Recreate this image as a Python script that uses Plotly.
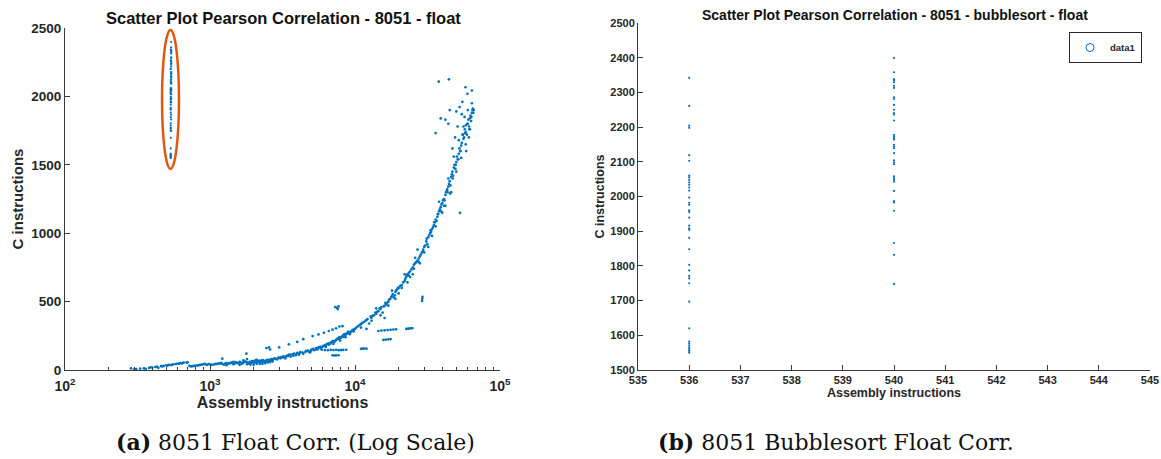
import plotly.graph_objects as go

# ---------------- data ----------------
# Bubblesort float runs (panel b; also the circled column in panel a)
bubble_x = [536]*35 + [540]*33
bubble_y = [2342, 2261, 2204, 2198, 2119, 2103, 2060, 2055, 2048, 2041, 2034, 2026, 2017,
            1997, 1982, 1976, 1960, 1955, 1939, 1916, 1908, 1904, 1881, 1848, 1803, 1787,
            1771, 1764, 1750, 1697, 1620, 1582, 1577, 1571, 1565] + \
           [2399, 2358, 2338, 2334, 2329, 2319, 2313, 2286, 2281, 2264, 2250, 2240, 2236,
            2219, 2178, 2173, 2168, 2164, 2149, 2144, 2139, 2125, 2104, 2098, 2093, 2058,
            2053, 2048, 2043, 2016, 1987, 1983, 1959]
bubble_extra_x = [536, 536, 536, 540, 540, 540]
bubble_extra_y = [1560, 1555, 1550, 1866, 1832, 1748]

# Main trend of all float programs (panel a)
curve_x = [285, 300, 330, 360, 380, 400, 420, 440, 460, 480, 500, 520, 540, 560, 590, 620, 640, 660,
           700, 720, 760, 800, 840, 880, 920, 960, 1000,
           310, 350, 390, 430, 470, 510, 550, 580, 610, 650, 690, 740, 780, 820, 860, 900, 940, 980,
           1050, 1100, 1150, 1200, 1216, 1250, 1300, 1350, 1400, 1450, 1500, 1550, 1600, 1650, 1700,
           1750, 1783, 1800, 1850, 1900, 1950, 2000, 2050, 2100, 2150, 2200, 2250, 2300, 2350, 2400,
           2450, 2500, 2550, 2600, 2650, 2700, 2800, 2900, 3000,
           1600, 1800, 2000, 2200, 2000, 2100, 1900, 1300, 1450, 1700, 2300, 2500, 2700,
           1020, 1080, 1120, 1180, 1230, 1280, 1320, 1380, 1420, 1480, 1520, 1580, 1620, 1680, 1720,
           1780, 1820, 1880, 1920, 1980, 2020, 2080, 2120, 2180, 2220, 2280, 2320, 2380, 2420, 2480,
           2520, 2580, 2620, 2680, 2750, 2850, 2950, 3050, 3150, 3250, 3350, 3450,
           2450, 2550, 2600,
           3100, 3200, 3300, 3400, 3500, 3600, 3700, 3800, 3900, 4000, 4200, 4400, 4600, 4800, 5000,
           5200, 5400, 5600, 5800, 6000, 6200, 6400, 6600, 6800, 7000, 7200, 7400, 7600, 7800, 8000,
           8200, 8400, 8600, 8800, 9000, 9300, 9600, 10000,
           3550, 3750, 3950, 4150, 4350, 4550, 4750, 4950, 5150, 5350, 5550, 5750, 5950, 6150, 6350,
           6550, 6750, 6950, 7150, 7350, 7550, 7750, 7950, 8150, 8350, 8550, 8750, 8950, 9150, 9450,
           9750,
           3000, 3500, 4000, 4400, 5100, 5600, 6100, 6600, 7000, 7400, 7800, 8200,
           3300, 4100, 4900, 5500, 6300, 7100, 7900, 8600, 9200, 9800,
           10500, 11000, 11500, 12000, 12500, 13000, 13500, 14000, 14500, 15000, 15500, 16000, 16500,
           17000, 17500, 18000, 18500, 19000, 19500, 20000, 21000, 22000, 22500, 23000, 24000, 25000,
           26000, 27000, 28000, 29000, 30000,
           10200, 10800, 11200, 11800, 12200, 12800, 13200, 13800, 14200, 14800, 15200, 15800, 16200,
           16800, 17200, 17800, 18200, 18800, 19200, 19800, 20500, 21500, 22200, 22800, 23500, 24500,
           25500, 26500, 27500, 28500, 29500,
           12000, 14000, 16000, 18000, 20000, 22000, 24000, 26000, 28000, 30000, 27000, 25000, 23000,
           11000, 13000, 15000, 17000, 19000, 21000, 23500, 25500, 27500, 29500,
           31000, 32000, 33000, 34000, 35000, 36000, 37000, 38000, 39000, 40000, 41000, 42000, 43000,
           44000, 45000, 46000, 47000, 48000, 50000, 52000, 54000, 56000, 58000, 60000, 62000, 64000,
           66000,
           30500, 31200, 32500, 33200, 34500, 35200, 36500, 37200, 38500, 39200, 40500, 41200, 42500,
           43200, 44500, 45200, 46500, 47200, 48500, 49200, 50500, 51200, 52500, 53200, 54500, 55200,
           56500, 57200, 58200, 59200, 60500, 61200, 62500, 63200, 64500, 65500,
           32000, 34000, 36000, 38000, 40000, 42000, 44000, 46000, 48000, 50000, 52000, 53000, 54000,
           56000, 58000, 60000, 62000, 64000, 57000, 55000, 50000, 45000, 44000, 42000, 36000, 39000,
           37800, 44400, 57800, 64000, 59600, 52700, 61000, 47000, 49000, 51000,
           31500, 33500, 35500, 37500, 39500, 41500, 43500, 45500, 47500, 49500, 51500, 53500, 55500,
           57500, 59500, 61500, 63500, 65000, 58500, 54500]
curve_y = [12, 4, 10, 8, 15, 18, 22, 16, 28, 30, 34, 38, 36, 42, 45, 50, 48, 55,
           56, 30, 28, 32, 35, 40, 45, 38, 42,
           6, 12, 20, 24, 26, 32, 40, 44, 46, 52, 54, 26, 30, 33, 38, 42, 40, 44,
           40, 45, 48, 52, 83, 40, 50, 48, 55, 42, 58, 50, 60, 45, 55,
           62, 119, 80, 48, 58, 65, 52, 70, 45, 60, 68, 55, 72, 60, 50,
           65, 75, 62, 58, 80, 70, 85, 78, 90,
           38, 42, 38, 44, 62, 75, 40, 35, 60, 70, 45, 55, 62,
           38, 42, 44, 46, 42, 48, 45, 50, 52, 47, 55, 52, 57, 50, 62,
           58, 55, 60, 50, 58, 64, 55, 68, 62, 58, 66, 70, 62, 68, 72,
           66, 75, 70, 78, 82, 80, 88, 85, 92, 95, 100, 102,
           160, 165, 150,
           95, 100, 88, 105, 110, 98, 115, 120, 108, 125, 130, 118, 140, 135, 150,
           145, 160, 165, 158, 175, 180, 190, 185, 200, 210, 205, 220, 230, 240, 235,
           250, 260, 255, 270, 280, 275, 290, 300,
           112, 104, 118, 122, 128, 132, 142, 138, 155, 150, 158, 170, 168, 178, 185,
           195, 192, 205, 212, 215, 225, 228, 238, 245, 242, 262, 265, 272, 268, 285,
           295,
           165, 188, 205, 225, 248, 260, 272, 285, 295, 305, 318, 320,
           85, 112, 128, 150, 168, 190, 215, 240, 262, 282,
           320, 335, 350, 365, 340, 380, 400, 410, 430, 445, 420, 470, 480,
           500, 520, 540, 530, 570, 590, 600, 620, 650, 680, 700, 720, 750,
           780, 800, 830, 860, 900,
           310, 330, 345, 360, 372, 390, 395, 420, 425, 450, 460, 465, 490,
           495, 515, 535, 555, 545, 580, 600, 615, 640, 665, 690, 710, 735,
           770, 790, 815, 845, 880,
           300, 450, 380, 580, 560, 700, 680, 820, 780, 860, 880, 700, 640,
           310, 360, 400, 470, 520, 600, 690, 740, 790, 870,
           940, 970, 1000, 1030, 1060, 1100, 1120, 1160, 1190, 1220, 1250, 1280, 1310,
           1340, 1380, 1410, 1450, 1480, 1520, 1580, 1640, 1690, 1740, 1800, 1840, 1880,
           1900,
           910, 960, 985, 1020, 1045, 1080, 1090, 1140, 1175, 1160, 1240, 1200, 1300,
           1320, 1360, 1290, 1430, 1400, 1500, 1470, 1560, 1540, 1620, 1600, 1660, 1720,
           1700, 1760, 1790, 1720, 1830, 1780, 1860, 1820, 1900, 1880,
           900, 980, 1050, 1230, 1150, 1200, 1400, 1300, 1560, 1450, 1680, 1148, 1550,
           1780, 1650, 1900, 1760, 1950, 1850, 1960, 1890, 1900, 1800, 1830, 1732, 1839,
           2108, 2125, 2067, 2043, 2019, 1922, 1700, 1620, 1700, 1780,
           920, 1010, 1080, 1140, 1210, 1240, 1300, 1350, 1420, 1500, 1540, 1600, 1720,
           1730, 1800, 1760, 1850, 1910, 1600, 1870]

# Side streaks / small clusters below the main trend (panel a)
band_x = [5900, 6200, 6500, 6800, 7100, 7400, 7700, 8000, 8300, 8700,
          7000, 7200, 7400, 7700,
          7300, 7500, 7700, 7600,
          11000, 11300, 11600, 12000,
          14500, 15200, 16000, 16800, 17600, 18400, 19200,
          15700, 16300, 17000, 17600,
          22600, 23300, 24000, 24800,
          29000, 29100, 29200]
band_y = [148, 146, 145, 147, 146, 148, 145, 146, 147, 148,
          108, 106, 107, 108,
          460, 455, 465, 445,
          155, 156, 157, 156,
          285, 288, 290, 292, 294, 296, 298,
          220, 222, 224, 226,
          300, 302, 304, 306,
          505, 520, 535]

# Tick labels
x_log_vals = [100, 1000, 10000, 100000]
x_log_text = ["10<sup>2</sup>", "10<sup>3</sup>", "10<sup>4</sup>", "10<sup>5</sup>"]
x_log_minor = [m * d for d in (100, 1000, 10000) for m in range(2, 10)]

# ---------------- figure ----------------
BLUE = "#0072BD"
AX = "#3a3a3a"
TXT = "#262626"
FONT = "Liberation Sans"

fig = go.Figure()

mk_a = dict(color=BLUE, size=2.7, line=dict(width=0))
fig.add_trace(go.Scatter(x=curve_x, y=curve_y, mode="markers", marker=mk_a,
                         xaxis="x", yaxis="y", showlegend=False))
fig.add_trace(go.Scatter(x=band_x, y=band_y, mode="markers", marker=mk_a,
                         xaxis="x", yaxis="y", showlegend=False))
fig.add_trace(go.Scatter(x=bubble_x + bubble_extra_x, y=bubble_y + bubble_extra_y,
                         mode="markers", marker=dict(color=BLUE, size=2.2, line=dict(width=0)),
                         xaxis="x", yaxis="y", showlegend=False))

fig.add_trace(go.Scatter(x=bubble_x + bubble_extra_x, y=bubble_y + bubble_extra_y,
                         mode="markers", name="data1", legendgroup="d1",
                         marker=dict(color=BLUE, size=2.2, line=dict(width=0)),
                         xaxis="x2", yaxis="y2", showlegend=False))
# legend entry (open circle, as in the original legend)
fig.add_trace(go.Scatter(x=[None], y=[None], mode="markers", name="data1", legendgroup="d1",
                         marker=dict(color=BLUE, size=8, symbol="circle-open",
                                     line=dict(width=1, color=BLUE)),
                         xaxis="x2", yaxis="y2", showlegend=True))

W, H = 1161, 459
def px_x(p):
    return p / W
def px_y(p):
    return 1 - p / H

axis_common = dict(showline=True, linecolor=AX, linewidth=1, ticks="inside", ticklen=5,
                   tickcolor=AX, showgrid=False, zeroline=False, mirror=False,
                   automargin=False)

fig.update_layout(
    width=W, height=H,
    margin=dict(l=0, r=0, t=0, b=0),
    paper_bgcolor="white", plot_bgcolor="white",
    font=dict(family=FONT, color=TXT),
    xaxis=dict(type="log", range=[2, 5], domain=[px_x(65), px_x(500)], anchor="y",
               tickvals=x_log_vals, ticktext=x_log_text, ticklabelstandoff=3,
               tickfont=dict(size=14, weight="bold", color=TXT),
               minor=dict(ticks="inside", ticklen=3, tickcolor=AX, showgrid=False,
                          tickvals=x_log_minor),
               title=dict(text="Assembly instructions", standoff=0,
                          font=dict(size=16, weight="bold", color=TXT)),
               **axis_common),
    yaxis=dict(range=[0, 2500], domain=[px_y(370), px_y(28)], anchor="x",
               tickvals=[0, 500, 1000, 1500, 2000, 2500],
               tickfont=dict(size=13.5, weight="bold", color=TXT),
               title=dict(text="C instructions", standoff=4,
                          font=dict(size=15, weight="bold", color=TXT)),
               **axis_common),
    xaxis2=dict(range=[535, 545], domain=[px_x(638), px_x(1150)], anchor="y2",
                dtick=1, tick0=535,
                tickfont=dict(size=11, weight="bold", color=TXT),
                title=dict(text="Assembly instructions", standoff=2,
                           font=dict(size=12.5, weight="bold", color=TXT)),
                **axis_common),
    yaxis2=dict(range=[1500, 2500], domain=[px_y(370), px_y(23)], anchor="x2",
                dtick=100, tick0=1500,
                tickfont=dict(size=11, weight="bold", color=TXT),
                title=dict(text="C instructions", standoff=2,
                           font=dict(size=12.5, weight="bold", color=TXT)),
                **axis_common),
    legend=dict(x=px_x(1142), xanchor="right", y=px_y(32), yanchor="top",
                bordercolor=TXT, borderwidth=1, bgcolor="white",
                font=dict(size=9.5, weight="bold", color=TXT),
                tracegroupgap=0, itemwidth=30),
)

# ellipse highlighting the bubblesort column
fig.add_shape(type="circle", xref="x", yref="y", x0=467, x1=611, y0=1469, y1=2485,
              line=dict(color="#E2570F", width=2.5))

# subplot titles
fig.add_annotation(text="<b>Scatter Plot Pearson Correlation - 8051 - float</b>",
                   xref="paper", yref="paper", x=px_x(283), y=px_y(18),
                   showarrow=False, font=dict(size=16.5, color="#111"), xanchor="center", yanchor="middle")
fig.add_annotation(text="<b>Scatter Plot Pearson Correlation - 8051 - bubblesort - float</b>",
                   xref="paper", yref="paper", x=px_x(895), y=px_y(15),
                   showarrow=False, font=dict(size=14, color="#111"), xanchor="center", yanchor="middle")

# captions
fig.add_annotation(text="<b>(a)</b> 8051 Float Corr. (Log Scale)",
                   xref="paper", yref="paper", x=px_x(295), y=px_y(442),
                   showarrow=False, font=dict(size=22, family="DejaVu Serif", color="#111"),
                   xanchor="center", yanchor="middle")
fig.add_annotation(text="<b>(b)</b> 8051 Bubblesort Float Corr.",
                   xref="paper", yref="paper", x=px_x(836), y=px_y(442),
                   showarrow=False, font=dict(size=22, family="DejaVu Serif", color="#111"),
                   xanchor="center", yanchor="middle")

# remove the default page margin so the figure sits at the window origin
fig.write_html("out.html", config={"displayModeBar": False},
               post_script="document.body.style.margin='0';document.body.style.overflow='hidden';")
